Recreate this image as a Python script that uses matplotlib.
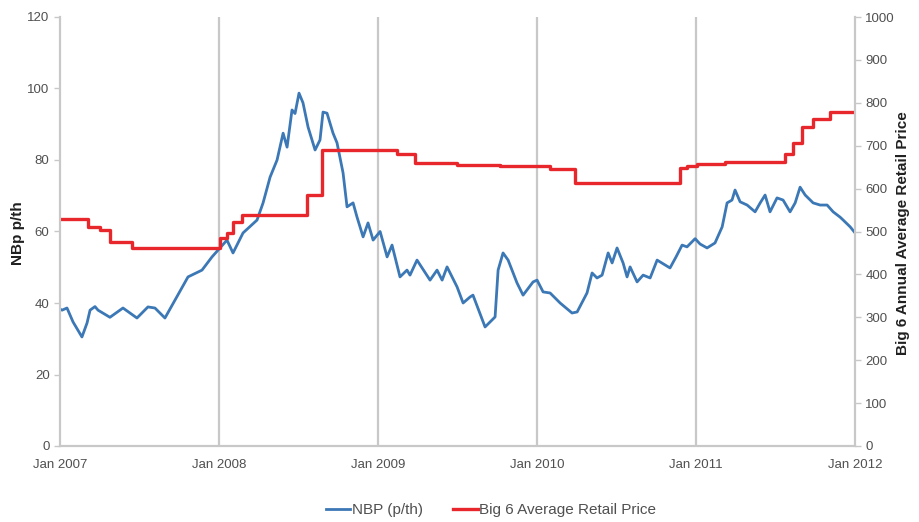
import matplotlib
matplotlib.use("Agg")
import matplotlib.pyplot as plt
import numpy as np
import pandas as pd

plt.rcParams['font.family'] = ['Liberation Sans', 'DejaVu Sans']

# NBP gas price (p/th), time as decimal year
nbp_year = [2007.000, 2007.013, 2007.044, 2007.082, 2007.138, 2007.170, 2007.189, 2007.220,
            2007.239, 2007.314, 2007.396, 2007.484, 2007.553, 2007.597, 2007.660, 2007.723,
            2007.805, 2007.893, 2007.956, 2008.006, 2008.050, 2008.088, 2008.151, 2008.239,
            2008.277, 2008.321, 2008.365, 2008.403, 2008.428, 2008.459, 2008.478, 2008.503,
            2008.528, 2008.560, 2008.604, 2008.635, 2008.654, 2008.679, 2008.717, 2008.742,
            2008.780, 2008.805, 2008.843, 2008.868, 2008.906, 2008.937, 2008.969, 2009.013,
            2009.057, 2009.088, 2009.138, 2009.182, 2009.201, 2009.245, 2009.327, 2009.371,
            2009.403, 2009.434, 2009.497, 2009.535, 2009.579, 2009.597, 2009.673, 2009.736,
            2009.755, 2009.786, 2009.818, 2009.874, 2009.912, 2009.975, 2010.000, 2010.038,
            2010.082, 2010.145, 2010.220, 2010.252, 2010.314, 2010.346, 2010.377, 2010.409,
            2010.447, 2010.472, 2010.503, 2010.541, 2010.566, 2010.585, 2010.629, 2010.667,
            2010.711, 2010.755, 2010.836, 2010.874, 2010.912, 2010.943, 2010.994, 2011.025,
            2011.069, 2011.119, 2011.164, 2011.195, 2011.226, 2011.245, 2011.277, 2011.321,
            2011.371, 2011.403, 2011.434, 2011.465, 2011.509, 2011.547, 2011.591, 2011.623,
            2011.654, 2011.686, 2011.736, 2011.780, 2011.824, 2011.862, 2011.906, 2011.925,
            2011.969, 2012.000]
nbp_value = [38.3, 38.0, 38.6, 34.7, 30.5, 34.4, 38.0, 39.0,
             38.0, 36.0, 38.6, 35.8, 38.9, 38.6, 35.8, 40.8,
             47.3, 49.2, 52.9, 55.4, 57.6, 54.0, 59.6, 63.2,
             68.0, 75.2, 80.0, 87.5, 83.6, 94.0, 93.0, 98.7,
             96.0, 89.2, 82.8, 85.6, 93.4, 93.1, 87.5, 84.8,
             76.4, 66.9, 68.0, 64.0, 58.5, 62.4, 57.6, 60.0,
             52.9, 56.2, 47.3, 49.2, 47.8, 52.0, 46.4, 49.2,
             46.4, 50.1, 44.5, 40.0, 41.7, 42.2, 33.3, 36.1,
             49.2, 54.0, 52.0, 45.6, 42.2, 45.9, 46.4, 43.1,
             42.8, 40.0, 37.2, 37.5, 42.8, 48.4, 47.0, 47.8,
             54.0, 51.2, 55.4, 51.2, 47.3, 50.1, 45.9, 47.8,
             47.0, 52.0, 49.8, 52.9, 56.2, 55.7, 58.0, 56.5,
             55.4, 56.8, 61.3, 68.0, 68.8, 71.6, 68.3, 67.4,
             65.5, 68.0, 70.2, 65.5, 69.4, 68.8, 65.5, 68.0,
             72.4, 70.2, 68.0, 67.4, 67.4, 65.5, 64.0, 63.2,
             61.3, 59.6]

# Big 6 average retail price, time as decimal year (step changes)
retail_year = [2007.000, 2007.176, 2007.252, 2007.314, 2007.453, 2008.006, 2008.050, 2008.088,
               2008.145, 2008.553, 2008.648, 2009.119, 2009.233, 2009.497, 2009.767, 2010.082,
               2010.239, 2010.899, 2010.943, 2011.006, 2011.182, 2011.560, 2011.610, 2011.667,
               2011.736, 2011.843, 2012.000]
retail_value = [529, 510, 503, 476, 462, 485, 497, 522,
                538, 585, 690, 681, 660, 655, 653, 646,
                613, 648, 653, 657, 662, 681, 706, 744,
                762, 779, 779]

year_ticks = [2007, 2008, 2009, 2010, 2011, 2012]
left_ticks = [0, 20, 40, 60, 80, 100, 120]
right_ticks = [0, 100, 200, 300, 400, 500, 600, 700, 800, 900, 1000]


def to_dates(years):
    years = np.asarray(years, dtype=float)
    return pd.Timestamp('2007-01-01') + pd.to_timedelta((years - 2007) * 365.25, unit='D')


blue = '#3b78b5'
red = '#e8272c'
grid_c = '#c8c8c8'
text_c = '#505050'

fig = plt.figure(figsize=(9.2, 5.22), dpi=100)
ax = fig.add_axes([60 / 920, 1 - 446 / 522, (855 - 60) / 920, (446 - 17) / 522])
ax2 = ax.twinx()

ax.plot(to_dates(nbp_year), nbp_value, color=blue, lw=2.0, label='NBP (p/th)', zorder=3)
ax2.plot(to_dates(retail_year), retail_value, color=red, lw=2.4, drawstyle='steps-post',
         label='Big 6 Average Retail Price', zorder=2)

xt = [pd.Timestamp(f'{y}-01-01') for y in year_ticks]
ax.set_xlim(xt[0], xt[-1])
ax.set_xticks(xt)
ax.set_xticklabels([f'Jan {y}' for y in year_ticks])
for t in xt[1:-1]:
    ax.axvline(t, color=grid_c, lw=1.6, zorder=1)

ax.set_ylim(0, 120)
ax.set_yticks(left_ticks)
ax2.set_ylim(0, 1000)
ax2.set_yticks(right_ticks)

for a in (ax, ax2):
    a.spines['top'].set_visible(False)
    for s in ('left', 'right', 'bottom'):
        a.spines[s].set_color(grid_c)
        a.spines[s].set_linewidth(1.5)
    a.tick_params(colors=text_c, labelsize=9.5, length=4, width=1, color=grid_c)
ax.tick_params(axis='x', length=0, pad=9)

fig.text(18 / 920, 1 - 233 / 522, 'NBp p/th', rotation=90, ha='center', va='center',
         fontsize=11, fontweight='bold', color='#202020')
fig.text(903 / 920, 1 - 233 / 522, 'Big 6 Annual Average Retail Price', rotation=90,
         ha='center', va='center', fontsize=11, fontweight='bold', color='#202020')

h1, l1 = ax.get_legend_handles_labels()
h2, l2 = ax2.get_legend_handles_labels()
fig.legend(h1 + h2, l1 + l2, loc='center', bbox_to_anchor=(491 / 920, 1 - 510 / 522), ncol=2,
           frameon=False, fontsize=11, handlelength=1.6, handletextpad=0.1, columnspacing=2.0,
           labelcolor=text_c)

fig.savefig('out.png', dpi=100)
